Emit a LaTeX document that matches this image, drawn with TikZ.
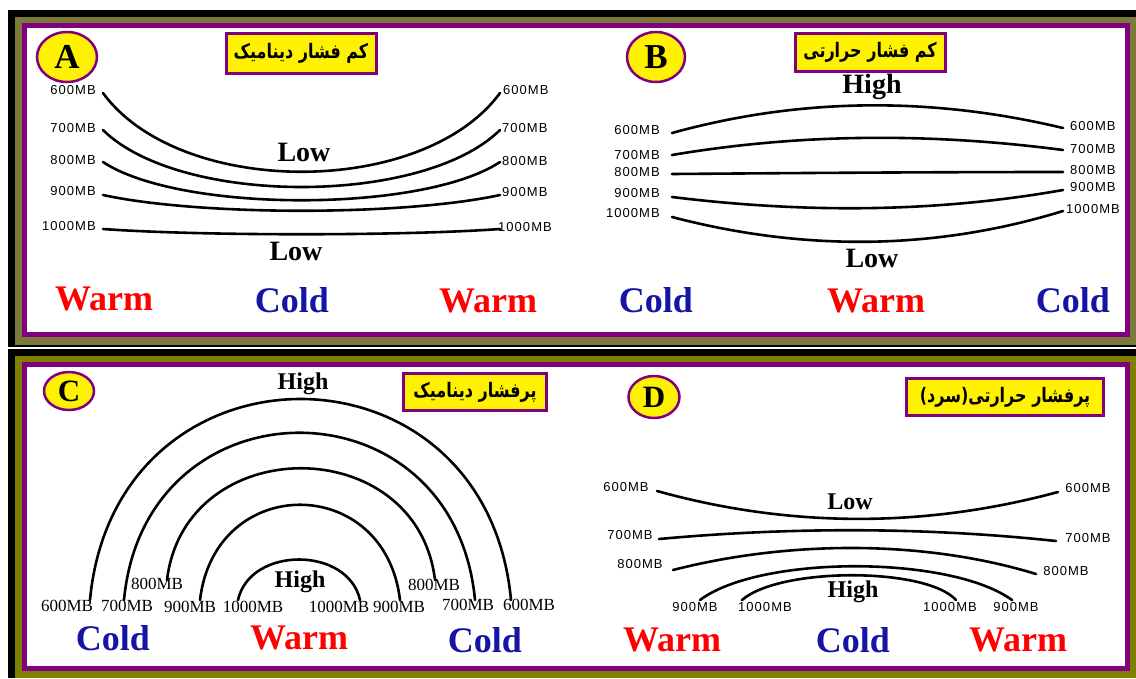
\documentclass[tikz,border=0pt]{standalone}
\usepackage{fontspec}
\setmainfont{Liberation Serif}
\newfontfamily\mbsans[LetterSpace=8]{Liberation Sans}
\newfontfamily\farsi[Script=Arabic, FakeStretch=0.8]{DejaVu Sans}
\TeXXeTstate=1
\usetikzlibrary{positioning, shapes.geometric}
\definecolor{frameolive}{RGB}{128,128,0}
\definecolor{frameolivetop}{RGB}{124,122,58}
\definecolor{framepurple}{RGB}{128,0,128}
\definecolor{warmred}{RGB}{255,0,0}
\definecolor{coldblue}{RGB}{20,20,165}
\tikzset{
    panelbox/.style={draw=framepurple, line width=5pt, fill=white},
    badge/.style={ellipse, draw=framepurple, fill=yellow, line width=2.5pt, inner sep=0pt, font=\fontsize{35}{35}\selectfont\bfseries},
    titlebox/.style={rectangle, draw=framepurple, fill=yellow, line width=3pt, inner sep=0pt, font=\farsi\bfseries\fontsize{20}{20}\selectfont},
    isobar/.style={line width=2.6pt, line cap=round, draw=black},
    mblab/.style={font=\mbsans\fontsize{13}{13}\selectfont, inner sep=0pt},
    mbserif/.style={font=\fontsize{17}{17}\selectfont, inner sep=0pt},
    bigword/.style={font=\bfseries\fontsize{36}{36}\selectfont, inner sep=0pt},
    warmlbl/.style={bigword, text=warmred},
    coldlbl/.style={bigword, text=coldblue},
    presslbl/.style={font=\bfseries\fontsize{28}{28}\selectfont, inner sep=0pt},
    presssm/.style={font=\bfseries\fontsize{24}{24}\selectfont, inner sep=0pt}
}
\begin{document}
\begin{tikzpicture}[x=1pt, y=-1pt]
    \useasboundingbox (0,0) rectangle (1136,678);
    % frames
    \fill[black] (8,10) rectangle (1136,347);
    \fill[frameolivetop] (15,17) rectangle (1136,345);
    \draw[panelbox] (24.5,25.5) rectangle (1127.5,334.5);
    \fill[black] (8,349) rectangle (1136,678);
    \fill[frameolive] (15,356) rectangle (1136,678);
    \draw[panelbox] (24.5,364.5) rectangle (1127.5,668.5);
    % A: dynamic low
    \node[badge, minimum width=60pt, minimum height=50pt] (bA) at (67,57) {A};
    \node[titlebox, minimum width=150pt, minimum height=40pt] (tA) at (301,53) {\beginR کم فشار دینامیک\endR};
    \draw[isobar] (103,93) .. controls (180,198) and (423,198) .. (500,93);
    \draw[isobar] (103,130) .. controls (180,206) and (423,206) .. (500,130);
    \draw[isobar] (103,162) .. controls (180,213) and (423,213) .. (500,162);
    \draw[isobar] (103,195) .. controls (200,216) and (403,216) .. (500,195);
    \draw[isobar] (103,229) .. controls (200,236) and (403,236) .. (500,229);
    \node[mblab, anchor=east] (a1) at (96,90) {600MB};
    \node[mblab, anchor=east] (a2) at (96,128) {700MB};
    \node[mblab, anchor=east] (a3) at (96,160) {800MB};
    \node[mblab, anchor=east] (a4) at (96,191) {900MB};
    \node[mblab, anchor=east] (a5) at (96,226) {1000MB};
    \node[mblab, anchor=west] (a6) at (503,90) {600MB};
    \node[mblab, anchor=west] (a7) at (502,128) {700MB};
    \node[mblab, anchor=west] (a8) at (502,161) {800MB};
    \node[mblab, anchor=west] (a9) at (502,192) {900MB};
    \node[mblab, anchor=west] (a10) at (498,227) {1000MB};
    \node[presslbl] (lowA1) at (304,152) {Low};
    \node[presslbl] (lowA2) at (296,251) {Low};
    \node[warmlbl] (wA1) at (104,299) {Warm};
    \node[coldlbl] (cA) at (292,300) {Cold};
    \node[warmlbl] (wA2) at (488,301) {Warm};
    % B: thermal low
    \node[badge, minimum width=58pt, minimum height=50pt] (bB) at (656,57) {B};
    \node[titlebox, minimum width=150pt, minimum height=38pt] (tB) at (870,52) {\beginR کم فشار حرارتی\endR};
    \node[presslbl] (highB) at (872,87) {High};
    \draw[isobar] (672,133) .. controls (802,97) and (933,97) .. (1063,128);
    \draw[isobar] (672,155) .. controls (802,133) and (933,133) .. (1063,150);
    \draw[isobar] (672,174) .. controls (802,173) and (933,172) .. (1063,172);
    \draw[isobar] (672,197) .. controls (802,213) and (933,213) .. (1063,190);
    \draw[isobar] (672,217) .. controls (802,251) and (933,251) .. (1063,211);
    \node[mblab, anchor=east] (b1) at (660,130) {600MB};
    \node[mblab, anchor=east] (b2) at (660,155) {700MB};
    \node[mblab, anchor=east] (b3) at (660,172) {800MB};
    \node[mblab, anchor=east] (b4) at (660,193) {900MB};
    \node[mblab, anchor=east] (b5) at (660,213) {1000MB};
    \node[mblab, anchor=west] (b6) at (1070,126) {600MB};
    \node[mblab, anchor=west] (b7) at (1070,149) {700MB};
    \node[mblab, anchor=west] (b8) at (1070,170) {800MB};
    \node[mblab, anchor=west] (b9) at (1070,187) {900MB};
    \node[mblab, anchor=west] (b10) at (1066,209) {1000MB};
    \node[presslbl] (lowB) at (872,258) {Low};
    \node[coldlbl] (cB1) at (656,300) {Cold};
    \node[warmlbl] (wB) at (876,301) {Warm};
    \node[coldlbl] (cB2) at (1073,300) {Cold};
    % C: dynamic high
    \node[badge, minimum width=50pt, minimum height=38pt, font=\fontsize{31}{31}\selectfont\bfseries] (bC) at (69,391) {C};
    \node[titlebox, minimum width=143pt, minimum height=37pt] (tC) at (475,392) {\beginR پرفشار دینامیک\endR};
    \node[presssm] (highC1) at (303,384) {High};
    \draw[isobar] (90,600) .. controls (115,332) and (486,332) .. (511,600);
    \draw[isobar] (124,600) .. controls (145,377) and (454,377) .. (475,600);
    \draw[isobar] (167,580) .. controls (185,431) and (417,431) .. (435,580);
    \draw[isobar] (200,600) .. controls (215,473) and (385,473) .. (400,600);
    \draw[isobar] (238,600) .. controls (250,546) and (348,546) .. (360,600);
    \node[mbserif] (c1) at (67,606) {600MB};
    \node[mbserif] (c2) at (127,606) {700MB};
    \node[mbserif] (c3) at (157,584) {800MB};
    \node[mbserif] (c4) at (190,607) {900MB};
    \node[mbserif] (c5) at (253,607) {1000MB};
    \node[mbserif] (c6) at (339,607) {1000MB};
    \node[mbserif] (c7) at (399,607) {900MB};
    \node[mbserif] (c8) at (434,585) {800MB};
    \node[mbserif] (c9) at (468,605) {700MB};
    \node[mbserif] (c10) at (529,605) {600MB};
    \node[presssm] (highC2) at (300,582) {High};
    \node[coldlbl] (cC1) at (113,638) {Cold};
    \node[warmlbl] (wC) at (299,638) {Warm};
    \node[coldlbl] (cC2) at (485,640) {Cold};
    % D: thermal high (cold)
    \node[badge, minimum width=51pt, minimum height=42pt, font=\fontsize{31}{31}\selectfont\bfseries] (bD) at (654,397) {D};
    \node[titlebox, minimum width=197pt, minimum height=37pt] (tD) at (1005,397) {\beginR پرفشار حرارتی(سرد)\endR};
    \draw[isobar] (657,491) .. controls (790,528) and (925,528) .. (1058,492);
    \draw[isobar] (659,539) .. controls (790,527) and (925,527) .. (1056,541);
    \draw[isobar] (673,570) .. controls (790,540) and (925,540) .. (1036,574);
    \draw[isobar] (700,600) .. controls (760,555) and (950,555) .. (1012,600);
    \draw[isobar] (742,600) .. controls (780,567) and (926,567) .. (956,600);
    \node[mblab] (d1) at (626,487) {600MB};
    \node[mblab] (d2) at (630,535) {700MB};
    \node[mblab] (d3) at (640,564) {800MB};
    \node[mblab] (d4) at (695,607) {900MB};
    \node[mblab] (d5) at (765,607) {1000MB};
    \node[mblab] (d6) at (950,607) {1000MB};
    \node[mblab] (d7) at (1016,607) {900MB};
    \node[mblab] (d8) at (1066,571) {800MB};
    \node[mblab] (d9) at (1088,538) {700MB};
    \node[mblab] (d10) at (1088,488) {600MB};
    \node[presssm] (lowD) at (850,502) {Low};
    \node[presssm] (highD) at (853,592) {High};
    \node[warmlbl] (wD1) at (672,640) {Warm};
    \node[coldlbl] (cD) at (853,640) {Cold};
    \node[warmlbl] (wD2) at (1018,640) {Warm};
\end{tikzpicture}
\end{document}
